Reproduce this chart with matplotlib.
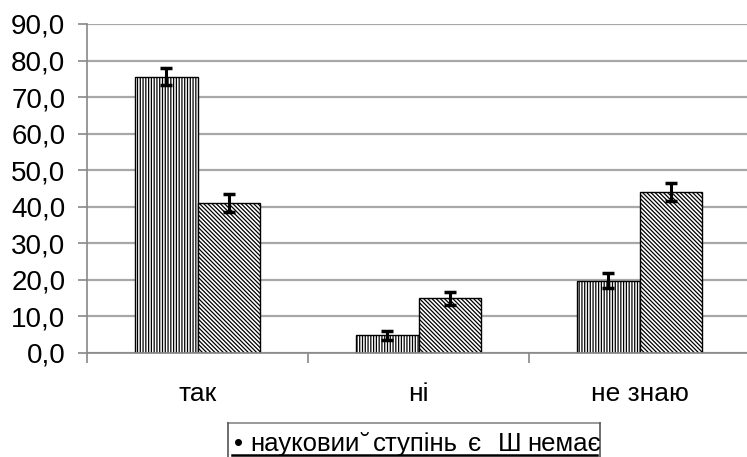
import matplotlib
matplotlib.use("Agg")
import matplotlib.pyplot as plt
from matplotlib.lines import Line2D
import numpy as np

categories = ["так", "ні", "не знаю"]
series1 = [75.6, 4.8, 19.8]
series2 = [41.1, 15.0, 44.0]
err1 = [2.3, 1.2, 2.0]
err2 = [2.5, 1.8, 2.4]
yticks = [0, 10, 20, 30, 40, 50, 60, 70, 80, 90]
legend_parts = ["•", "науковии", "˘", "ступінь", "є", "Ш", "немає"]

plt.rcParams['font.family'] = ['Liberation Sans', 'DejaVu Sans']
plt.rcParams['hatch.linewidth'] = 0.9

W, H = 747, 457
fig = plt.figure(figsize=(W / 100, H / 100), dpi=100)
ax = fig.add_axes([87 / W, 1 - 353 / H, (750 - 87) / W, (353 - 24) / H])

x = np.arange(len(categories))
bw = 0.285
ax.bar(x - bw / 2, series1, bw, color='white', edgecolor='black', hatch='||||||', linewidth=1.0, zorder=2)
ax.bar(x + bw / 2, series2, bw, color='white', edgecolor='black', hatch='\\' * 8, linewidth=1.0, zorder=2)
ax.errorbar(x - bw / 2, series1, yerr=err1, fmt='none', ecolor='black', elinewidth=2.2, capsize=4, capthick=2.5, zorder=3)
ax.errorbar(x + bw / 2, series2, yerr=err2, fmt='none', ecolor='black', elinewidth=2.2, capsize=4, capthick=2.5, zorder=3)

ax.set_xlim(-0.5, 2.5)
ax.set_ylim(0, 90)
ax.set_yticks(yticks)
ax.set_yticklabels([f"{v:.1f}".replace('.', ',') for v in yticks], fontsize=20)
ax.yaxis.grid(True, color='#a8a8a8', linewidth=1.6, zorder=0)
ax.set_axisbelow(True)

ax.set_xticks(x)
ax.set_xticklabels(categories, fontsize=19)
ax.set_xticks([-0.5, 0.5, 1.5, 2.5], minor=True)
ax.tick_params(axis='x', which='major', length=0, pad=21)
ax.tick_params(axis='x', which='minor', length=7, color='#888888', width=1.2)
ax.tick_params(axis='y', length=6.5, color='#888888', width=1.2, pad=9)

for s in ['top', 'right']:
    ax.spines[s].set_visible(False)
for s in ['left', 'bottom']:
    ax.spines[s].set_color('#888888')
    ax.spines[s].set_linewidth(1.2)

# legend box
def fx(px):
    return px / W

def fy(py):
    return 1 - py / H

fig.add_artist(Line2D([fx(228), fx(600)], [fy(423), fy(423)], color='#888888', lw=1.2))
fig.add_artist(Line2D([fx(228), fx(228)], [fy(423), fy(460)], color='#555555', lw=1.2))
fig.add_artist(Line2D([fx(600), fx(600)], [fy(423), fy(460)], color='#555555', lw=1.2))
legend_x = [234, 250, 360, 373, 468, 498, 527]
for part, px in zip(legend_parts, legend_x):
    fig.text(fx(px), fy(451), part, fontsize=18.5, ha='left', va='baseline')
fig.add_artist(Line2D([fx(232), fx(597)], [fy(455), fy(455)], color='black', lw=1.8))

fig.savefig("out.png", dpi=100)
